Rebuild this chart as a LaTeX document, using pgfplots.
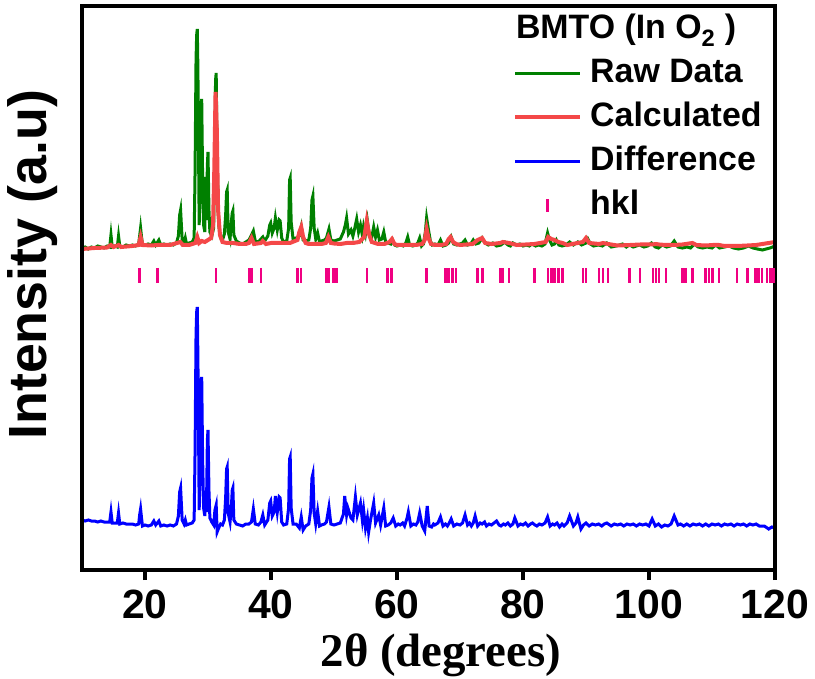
\documentclass[border=0pt]{standalone}
\usepackage{fontspec}
\setmainfont{Liberation Sans}
\newfontfamily\serifbold{Liberation Serif}
\usepackage{pgfplots}
\pgfplotsset{compat=1.18}

\definecolor{rawgreen}{RGB}{0,128,0}
\definecolor{calcred}{RGB}{244,72,72}
\definecolor{diffblue}{RGB}{0,0,255}
\definecolor{hklpink}{RGB}{240,0,130}

\begin{document}
\begin{tikzpicture}
\begin{axis}[
  scale only axis,
  width=693bp, height=564bp,
  xmin=10, xmax=120, ymin=0, ymax=564,
  xtick={20,40,...,120}, ytick=\empty,
  xtick pos=bottom, tick align=outside,
  major tick length=10bp,
  every tick/.style={black, line width=4.5bp},
  axis line style={black, line width=4.5bp},
  axis on top,
  /pgf/number format/assume math mode=true,
  xticklabel style={font=\fontsize{41}{41}\selectfont\bfseries, inner sep=0pt, anchor=north},
  xticklabel shift=10bp,
  xlabel={\serifbold\bfseries 2θ (degrees)},
  xlabel style={font=\fontsize{47}{47}\selectfont, at={(axis description cs:0.518,-0.151)}, anchor=center},
  ylabel={Intensity (a.u)},
  ylabel style={font=\fontsize{54}{54}\selectfont\bfseries, at={(axis description cs:-0.0707,0.541)}, rotate=0, anchor=center},
  legend style={draw=none, fill=none, at={(0.622,0.911)}, anchor=north west,
    inner sep=0pt, column sep=8bp, row sep=10bp,
    font=\fontsize{34}{34}\selectfont\bfseries,
    nodes={inner sep=0pt, text height=26bp, text depth=8bp}},
  legend cell align=left,
  legend image code/.code={\draw[#1] (0bp,0bp) -- (65bp,0bp);},
]
% observed pattern
\addplot[rawgreen, line width=3bp] coordinates {
(10.0,322) (10.5,323) (11.0,321) (11.5,323) (12.0,322) (12.5,324) (13.0,323) (13.5,322)
(14.0,324) (14.4,323) (14.6,335) (14.8,323) (15.2,324) (15.6,323) (15.8,334) (16.0,324)
(16.5,323) (17.0,325) (17.5,324) (18.0,325) (18.5,324) (19.0,326) (19.15,334) (19.3,342)
(19.45,333) (19.6,326) (20.0,325) (20.5,326) (21.0,325) (21.4,329) (21.7,325) (22.2,330)
(22.5,325) (23.0,326) (23.5,325) (24.0,326) (24.5,325) (25.0,327) (25.3,334) (25.5,355) (25.65,360)
(25.9,330) (26.2,327) (26.4,332) (26.6,326) (27.0,327) (27.5,328) (27.8,332) (27.95,400)
(28.1,510) (28.2,535) (28.3,541) (28.4,500) (28.5,420) (28.6,345) (28.75,380) (28.9,465) (29.0,471) (29.15,390) (29.3,345)
(29.5,338) (29.6,393) (29.75,350) (29.9,405) (30.0,418) (30.15,360) (30.3,338) (30.6,334) (30.9,342)
(31.1,430) (31.2,490) (31.3,497) (31.45,410) (31.7,345) (32.0,332) (32.3,330) (32.6,336) (32.8,355)
(32.95,378) (33.05,380) (33.2,338) (33.5,331) (33.7,348) (33.85,357) (33.95,359) (34.1,335) (34.5,329) (35.0,327)
(35.5,326) (36.0,328) (36.5,330) (36.9,335) (37.2,339) (37.5,329) (38.0,328) (38.4,331)
(38.7,333) (39.0,329) (39.5,334) (39.8,345) (39.95,347) (40.2,337) (40.5,342) (40.7,352) (41.0,340)
(41.3,350) (41.45,349) (41.7,332) (42.0,328) (42.5,329) (42.8,342) (42.95,390) (43.05,392) (43.2,348) (43.5,331)
(44.0,332) (44.5,334) (44.8,343) (45.1,330) (45.5,329) (46.0,330) (46.3,342) (46.5,370) (46.65,374)
(46.85,342) (47.1,331) (47.4,337) (47.7,328) (48.0,329) (48.5,330) (48.8,332) (49.2,341)
(49.5,330) (50.0,329) (50.5,330) (51.0,331) (51.5,338) (51.8,345) (52.0,352) (52.3,336)
(52.7,340) (53.0,334) (53.3,342) (53.6,351) (53.9,338) (54.2,345) (54.5,335) (54.7,344)
(55.0,336) (55.3,349) (55.6,335) (56.0,333) (56.3,343) (56.6,333) (56.9,340) (57.2,330)
(57.6,331) (57.9,338) (58.2,328) (58.6,327) (59.0,326) (59.3,330) (59.6,325) (60.0,324)
(60.5,325) (61.0,324) (61.4,327) (61.7,333) (62.0,325) (62.5,324) (63.0,325) (63.3,327)
(63.6,332) (63.9,324) (64.2,326) (64.5,338) (64.7,352) (65.0,340) (65.3,329) (65.6,325)
(66.0,326) (66.5,325) (66.9,330) (67.3,324) (67.8,325) (68.2,327) (68.6,333) (69.0,326)
(69.5,325) (70.0,326) (70.4,327) (70.8,330) (71.2,325) (71.7,326) (72.1,330) (72.5,326)
(73.0,327) (73.5,332) (74.0,327) (74.5,325) (75.2,327) (75.8,324) (76.5,325) (77.1,328)
(77.6,325) (78.0,324) (78.4,327) (79.0,325) (79.5,326) (80.0,324) (80.5,325) (81.0,324)
(81.4,326) (82.0,324) (82.5,325) (83.0,324) (83.5,326) (83.9,337) (84.2,330) (84.6,325)
(85.0,326) (85.3,330) (85.7,325) (86.2,324) (86.8,325) (87.4,328) (88.0,325) (88.7,328)
(89.3,325) (90.0,327) (90.3,331) (90.7,326) (91.2,324) (92.0,325) (92.6,324) (93.3,327)
(94.0,323) (94.8,324) (95.8,326) (96.4,323) (96.9,325) (97.5,323) (98.0,324) (98.5,325)
(99.2,323) (99.8,324) (100.4,327) (101.0,323) (101.5,322) (102.1,325) (102.8,323) (103.4,324)
(104.0,329) (104.6,323) (105.3,322) (106.0,323) (106.6,322) (107.2,326) (107.8,323) (108.5,322)
(109.2,323) (110.0,322) (110.6,325) (111.2,322) (112.0,323) (112.7,324) (113.4,322) (114.2,321)
(115.0,322) (115.8,324) (116.5,322) (117.2,321) (118.0,320) (118.6,321) (119.2,322) (120.0,324)
};
\addlegendentry{Raw Data}
% refined profile
\addplot[calcred, line width=4bp] coordinates {
(10,321) (12,322) (14,322.5) (14.6,325) (15,323) (15.8,325) (16.2,323) (18,324) (19,325)
(19.3,333) (19.6,325) (21,324.5) (22,325) (24,325) (25.6,328) (26,325) (27,325) (28,327)
(28.3,333) (28.6,327) (29,329) (29.5,328) (30,330) (30.5,332) (30.8,345) (31.0,400) (31.2,478)
(31.4,440) (31.6,360) (31.9,335) (32.3,328) (33,327) (34,327) (35,326) (36,326) (36.5,327)
(36.9,332) (37.3,326) (38.4,327) (38.7,329) (39.2,326) (40,327) (41,327) (42,327) (43,327)
(44.2,330) (44.5,338) (44.8,343) (45.1,333) (45.5,327) (46,326) (47,326) (48,326) (48.7,327)
(49.1,333) (49.5,327) (50,326.5) (51,326) (52,327) (53,327) (54,328) (54.8,333) (55.2,349)
(55.6,335) (56,328) (57,326) (58,326) (58.8,328) (59.2,331) (59.6,326) (60,325) (62,325)
(63,325) (64,326) (64.4,330) (64.7,341) (65.0,332) (65.4,326) (66,325) (67,325) (67.8,326)
(68.2,331) (68.5,333) (68.9,328) (69.4,326) (70,325) (72,326) (72.8,330) (73.5,332) (74,327)
(75,326) (76.4,327) (76.8,328) (77.8,327) (79,325) (81.8,326) (83.6,328) (84.0,333) (84.5,331)
(85.0,330) (85.6,328) (86.3,327) (87,325) (89.5,328) (90.0,332) (90.5,327) (92.1,326) (92.7,327)
(93.5,326) (95,324.5) (97,325) (98.6,325.5) (100.6,325.5) (101.1,326) (101.6,325.5) (102.7,325)
(104,325) (105.3,325.5) (106.9,327) (107.5,325) (109,324.5) (110.1,325) (111.1,325) (112,324)
(114,324) (115.6,324.5) (117,325) (118,326) (119,327) (120,328)
};
\addlegendentry{Calculated}
% observed minus calculated
\addplot[diffblue, line width=3bp] coordinates {
(10,50) (10.5,49) (11,50) (11.5,49) (12,49) (12.5,48) (13,49) (13.5,48) (14,48) (14.4,48)
(14.6,58) (14.8,47) (15.3,47) (15.6,47) (15.8,57) (16.0,46) (16.5,47) (17,46) (17.5,46) (18,46)
(18.5,45) (19.0,46) (19.15,55) (19.3,61) (19.45,52) (19.6,44) (20,45) (20.5,44) (21,45) (21.4,49)
(21.7,45) (22.2,49) (22.5,44) (23,45) (23.5,44) (24,45) (24.5,44) (25,46) (25.3,54) (25.5,78) (25.65,82)
(25.9,50) (26.2,46) (26.4,50) (26.6,45) (27,46) (27.5,47) (27.8,50) (27.95,120) (28.1,235) (28.2,258) (28.3,263)
(28.4,210) (28.5,140) (28.6,60) (28.75,100) (28.9,188) (29.0,193) (29.15,110) (29.3,62) (29.5,54) (29.6,75) (29.75,58) (29.9,130) (30.0,140)
(30.15,80) (30.3,52) (30.6,48) (30.9,45) (31.1,60) (31.3,65) (31.45,38) (31.7,42) (32.0,46) (32.3,45)
(32.6,50) (32.8,72) (32.95,101) (33.05,103) (33.2,57) (33.5,48) (33.7,62) (33.85,80) (33.95,82) (34.1,50) (34.5,46) (35,45)
(35.5,44) (36,46) (36.5,46) (36.9,48) (37.2,61) (37.5,46) (38,45) (38.4,48) (38.7,55) (39,45)
(39.5,50) (39.8,67) (39.95,69) (40.2,54) (40.5,58) (40.7,74) (41.0,58) (41.3,73) (41.45,72) (41.7,48) (42,45) (42.5,46)
(42.8,62) (42.95,111) (43.05,113) (43.2,62) (43.5,46) (44,46) (44.5,42) (44.8,53) (45.1,40) (45.5,44) (46,46)
(46.3,60) (46.5,92) (46.65,96) (46.85,57) (47.1,46) (47.4,59) (47.7,44) (48,45) (48.5,46) (48.8,48) (49.2,63)
(49.5,46) (50,45) (50.5,46) (51,47) (51.5,56) (51.7,74) (52.0,55) (52.2,62) (52.7,52) (53.0,50)
(53.4,73) (53.7,55) (54.2,67) (54.5,50) (54.7,60) (55.0,42) (55.3,52) (55.5,38) (55.8,50) (56.3,67)
(56.6,47) (57.1,55) (57.4,45) (57.9,62) (58.2,44) (58.6,45) (59.0,47) (59.4,52) (59.8,44) (60.2,46) (60.5,45) (60.9,47) (61.2,44)
(61.6,52) (61.8,58) (62.2,44) (62.6,46) (63,45) (63.3,48) (63.6,57) (64.0,44) (64.4,39) (64.8,64) (65.1,44) (65.5,43) (65.8,46) (66,45)
(66.5,47) (66.9,53) (67.3,44) (67.7,46) (68,44) (68.3,47) (68.6,51) (69,44) (69.5,46) (70,45) (70.4,47) (70.8,55) (71.2,45) (71.5,47) (71.8,44) (72.1,47) (72.4,54)
(72.8,44) (73.2,47) (73.5,46) (73.9,48) (74.2,44) (74.6,46) (75,45) (75.4,47) (75.8,49) (76.2,45) (76.5,44) (76.9,46) (77.2,45) (77.6,47) (78,44) (78.4,46) (78.7,52) (79.2,44)
(79.6,46) (80,45) (80.4,47) (80.8,44) (81.2,46) (81.5,47) (81.9,45) (82.2,44) (82.6,46) (83,45) (83.5,47) (83.9,53) (84.3,44) (84.7,46) (85,45) (85.4,47) (85.8,43) (86.2,46) (86.5,44)
(87.0,47) (87.4,54) (88,44) (88.4,47) (88.7,53) (89.2,41) (89.6,45) (90.0,47) (90.5,44) (91.0,46) (91.5,45) (92.0,46) (92.5,44) (92.9,46) (93.3,47) (94,44)
(94.5,46) (95,45) (95.5,46) (96,44) (96.5,46) (97,45) (97.5,46) (98,44) (98.5,46) (99,45) (99.5,46) (100,44) (100.5,51) (101,44) (101.5,46) (102,43) (102.5,45) (103,44)
(103.5,46) (104,54) (104.6,45) (105,46) (105.5,44) (106,46) (106.5,44) (107,46) (107.5,45) (108,46) (108.5,44) (109,46) (109.5,44) (110,46) (110.5,45) (111,46) (111.5,44) (112,46) (112.5,45)
(113,46) (113.5,44) (114,46) (114.5,45) (115,46) (115.5,44) (116,46) (116.5,45) (117,46) (117.5,44) (118.3,44) (119,41) (119.5,43) (120,42)
};
\addlegendentry{Difference}
% Bragg reflection positions
\addplot[hklpink, only marks, mark=|, mark size=7.5bp, mark options={line width=2.5bp},
  legend image code/.code={\draw[hklpink, line width=2.5bp] (32.5bp,-6.5bp) -- (32.5bp,6.5bp);}]
  coordinates {
(19.1,294.5) (22.0,294.5) (31.3,294.5) (36.5,294.5) (36.9,294.5) (38.4,294.5) (44.2,294.5) (44.8,294.5)
(48.7,294.5) (49.1,294.5) (49.9,294.5) (50.4,294.5) (55.2,294.5) (58.5,294.5) (59.1,294.5) (64.7,294.5)
(67.7,294.5) (68.2,294.5) (68.8,294.5) (69.4,294.5) (72.8,294.5) (73.6,294.5) (76.4,294.5) (76.8,294.5)
(77.8,294.5) (81.8,294.5) (84.0,294.5) (84.5,294.5) (85.0,294.5) (85.6,294.5) (86.3,294.5) (89.5,294.5)
(90.0,294.5) (92.1,294.5) (92.7,294.5) (93.5,294.5) (96.9,294.5) (98.6,294.5) (100.6,294.5) (101.1,294.5)
(101.6,294.5) (102.7,294.5) (105.3,294.5) (105.8,294.5) (106.9,294.5) (109.0,294.5) (109.5,294.5) (110.1,294.5)
(111.1,294.5) (114.0,294.5) (115.6,294.5) (116.9,294.5) (117.4,294.5) (117.9,294.5) (118.7,294.5) (119.3,294.5)
(119.8,294.5)
};
\addlegendentry{hkl}
\node[anchor=west, inner sep=0pt, font=\fontsize{34}{34}\selectfont\bfseries]
  at (axis description cs:0.626,0.957) {BMTO (In O\textsubscript{2} )};
\end{axis}
\pgfresetboundingbox
\path ([shift={(-82bp,-109bp)}]current axis.south west) rectangle ++(815bp,679bp);
\end{tikzpicture}
\end{document}
